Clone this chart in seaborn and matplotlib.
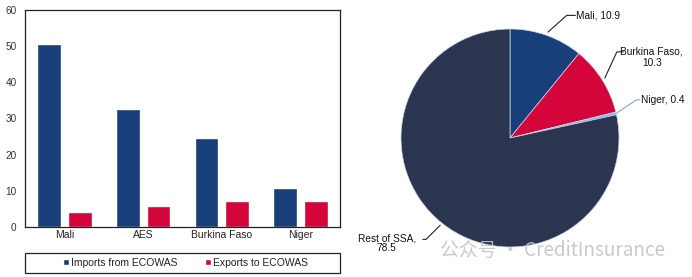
import matplotlib
matplotlib.use("Agg")
import matplotlib.pyplot as plt
import matplotlib.patches as mpatches
import seaborn as sns
import pandas as pd

# ---- data ----
countries = ["Mali", "AES", "Burkina Faso", "Niger"]
imports_from_ecowas = [50.6, 32.7, 24.6, 10.7]
exports_to_ecowas = [4.2, 5.9, 7.2, 7.2]
series_names = ["Imports from ECOWAS", "Exports to ECOWAS"]
y_ticks = [0, 10, 20, 30, 40, 50, 60]

pie_labels = ["Mali", "Burkina Faso", "Niger", "Rest of SSA"]
pie_values = [10.9, 10.3, 0.4, 78.5]

BLUE = "#183f79"
RED = "#d4053a"
LIGHTBLUE = "#8db3e2"
NAVY = "#2b3550"

sns.set_theme(style="white")
plt.rcParams["font.family"] = ["Liberation Sans", "DejaVu Sans"]

fig = plt.figure(figsize=(6.92, 2.77), dpi=100)

# ---- bar chart ----
ax = fig.add_axes([25 / 692, 50 / 277, 315 / 692, 217 / 277])
df = pd.DataFrame({
    "country": countries * 2,
    "value": imports_from_ecowas + exports_to_ecowas,
    "series": [series_names[0]] * 4 + [series_names[1]] * 4,
})
sns.barplot(data=df, x="country", y="value", hue="series", order=countries,
            hue_order=series_names, palette=[BLUE, RED], width=0.78, gap=0.23,
            saturation=1, ax=ax)
ax.set_xlim(-0.5, 3.5)
ax.set_ylim(0, 60)
ax.set_yticks(y_ticks)
ax.set_yticklabels([str(t) for t in y_ticks], fontsize=7.2, color="#333333")
ax.tick_params(axis="x", labelsize=7.5, colors="#222222", pad=2, length=0)
ax.tick_params(axis="y", pad=6, length=0)
ax.set_xlabel("")
ax.set_ylabel("")
for s in ax.spines.values():
    s.set_visible(True)
    s.set_color("#222222")
    s.set_linewidth(0.9)
leg = ax.legend(loc="center", bbox_to_anchor=(0.51, -0.166),
                ncol=2, fontsize=7.5, frameon=False, handlelength=0.55,
                handleheight=0.55, handletextpad=0.25, borderpad=0.2,
                columnspacing=2.6, borderaxespad=0)
for t in leg.get_texts():
    t.set_color("#222222")
ax.add_patch(mpatches.Rectangle((0, -0.212), 1, 0.092, transform=ax.transAxes,
                                fill=False, edgecolor="#222222", linewidth=0.9,
                                clip_on=False))

# ---- pie chart ----
R = 109.0
half = 125.0
pax = fig.add_axes([(510 - half) / 692, (139 - half) / 277, 2 * half / 692, 2 * half / 277])
pax.pie(pie_values, colors=[BLUE, RED, LIGHTBLUE, NAVY], startangle=90,
        counterclock=False, radius=1,
        wedgeprops=dict(edgecolor="#c9d6ea", linewidth=0.5))
lim = half / R
pax.set_xlim(-lim, lim)
pax.set_ylim(-lim, lim)
pax.set_aspect("equal")
pax.axis("off")

lab_fs = 7.3
# Mali
pax.plot([0.349, 0.52, 0.60], [0.972, 1.125, 1.125], color="#222222", lw=0.8, clip_on=False)
pax.text(0.61, 1.125, f"{pie_labels[0]}, {pie_values[0]}", fontsize=lab_fs, ha="left",
         va="center", color="#111111", clip_on=False)
# Burkina Faso
pax.plot([0.87, 0.98, 1.04], [0.55, 0.79, 0.79], color="#222222", lw=0.8, clip_on=False)
pax.text(1.30, 0.74, f"{pie_labels[1]},\n{pie_values[1]}", fontsize=lab_fs, ha="center",
         va="center", color="#111111", clip_on=False, linespacing=1.1)
# Niger
pax.plot([0.98, 1.16, 1.19], [0.23, 0.35, 0.35], color="#7fa6d6", lw=0.8, clip_on=False)
pax.text(1.20, 0.35, f"{pie_labels[2]}, {pie_values[2]}", fontsize=lab_fs, ha="left",
         va="center", color="#111111", clip_on=False)
# Rest of SSA
pax.plot([-0.64, -0.77, -0.80], [-0.80, -0.93, -0.93], color="#222222", lw=0.8, clip_on=False)
pax.text(-1.13, -0.965, f"{pie_labels[3]},\n{pie_values[3]}", fontsize=lab_fs, ha="center",
         va="center", color="#111111", clip_on=False, linespacing=1.0)

# watermark
fig.text(440 / 692, 1 - 250 / 277, "公众号 · CreditInsurance", fontsize=13.6,
         color="#c4c4c4", ha="left", va="center", alpha=0.9,
         family=["Noto Sans CJK SC", "DejaVu Sans"])

fig.savefig("out.png", dpi=100)
